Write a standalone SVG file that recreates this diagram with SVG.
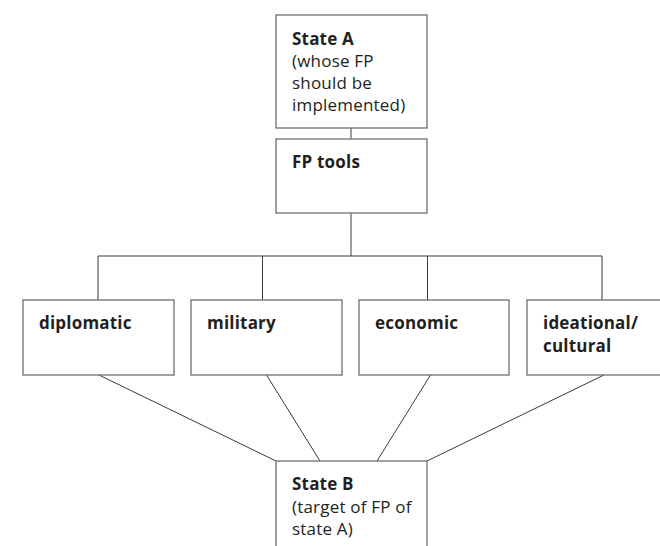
<svg xmlns="http://www.w3.org/2000/svg" width="660" height="546" viewBox="0 0 660 546">
<style>
.box{fill:#fff;stroke:#6f6f6f;stroke-width:1.3}
.ln{fill:none;stroke:#3a3a3a;stroke-width:1}
text{font-family:"Open Sans","Noto Sans",sans-serif;font-size:17px;letter-spacing:0.2px;fill:#231f20}
.b{font-weight:bold}
</style>
<rect width="660" height="546" fill="#fff"/>
<g id="connectors">
<line class="ln" x1="351" y1="128" x2="351" y2="139"/>
<line class="ln" x1="351" y1="213" x2="351" y2="256"/>
<polyline class="ln" points="98,300 98,256 602,256 602,300"/>
<line class="ln" x1="262.5" y1="256" x2="262.5" y2="300"/>
<line class="ln" x1="427.5" y1="256" x2="427.5" y2="300"/>
<line class="ln" x1="99" y1="375" x2="276" y2="461"/>
<line class="ln" x1="266.5" y1="375" x2="320" y2="461"/>
<line class="ln" x1="430.5" y1="375" x2="377" y2="461"/>
<line class="ln" x1="604" y1="375" x2="427" y2="461"/>
</g>
<g id="stateA">
<rect class="box" x="276" y="15" width="151" height="113"/>
<text x="292" y="45" class="b">State A</text>
<text x="292" y="67">(whose FP</text>
<text x="292" y="89">should be</text>
<text x="292" y="111">implemented)</text>
</g>
<g id="fptools">
<rect class="box" x="276" y="139" width="151" height="74"/>
<text x="292" y="168" class="b">FP tools</text>
</g>
<g id="diplomatic">
<rect class="box" x="23" y="300" width="151" height="75"/>
<text x="39" y="329" class="b">diplomatic</text>
</g>
<g id="military">
<rect class="box" x="191" y="300" width="151" height="75"/>
<text x="207" y="329" class="b">military</text>
</g>
<g id="economic">
<rect class="box" x="359" y="300" width="150" height="75"/>
<text x="375" y="329" class="b">economic</text>
</g>
<g id="ideational">
<rect class="box" x="527" y="300" width="151" height="75"/>
<text x="543" y="329" class="b">ideational/</text>
<text x="543" y="352" class="b">cultural</text>
</g>
<g id="stateB">
<rect class="box" x="276" y="461" width="151" height="100"/>
<text x="292" y="490" class="b">State B</text>
<text x="292" y="513">(target of FP of</text>
<text x="292" y="535">state A)</text>
</g>
</svg>
